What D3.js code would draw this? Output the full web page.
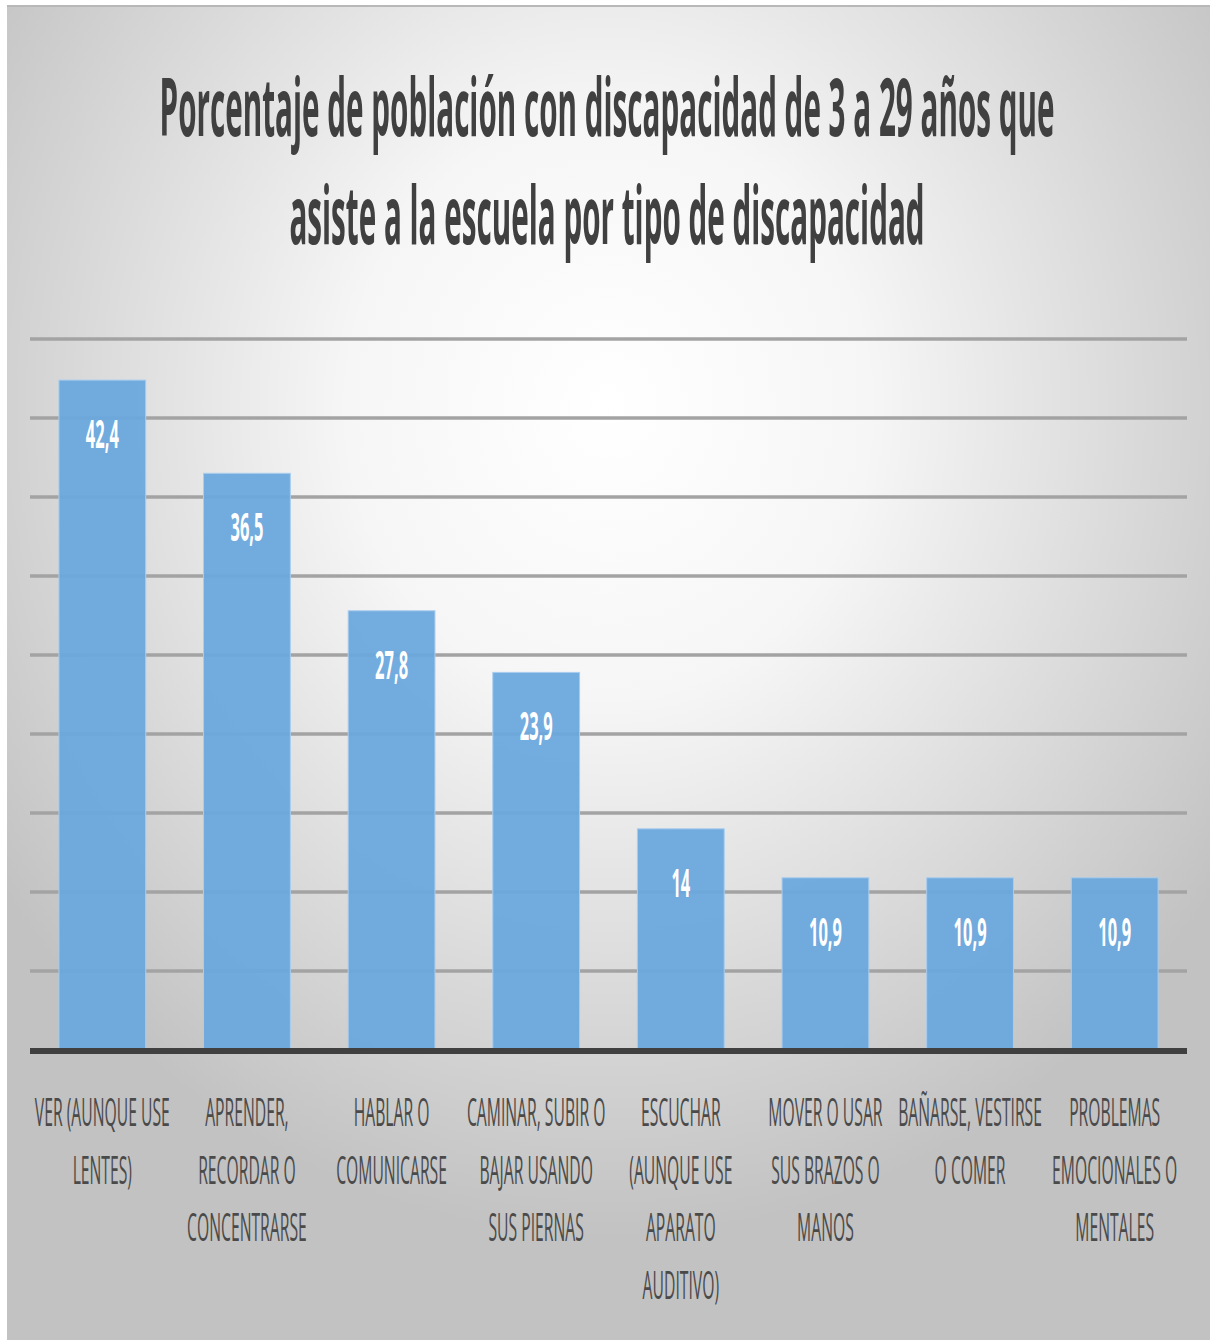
<!DOCTYPE html>
<html>
<head>
<meta charset="utf-8">
<script src="https://cdn.jsdelivr.net/npm/d3@7"></script>
<style>
  body { margin: 0; background: #fff; }
  svg { display: block; }
</style>
</head>
<body>
<div id="chart"></div>
<script>
// chart data
var CATEGORIES = ["Ver", "Aprender", "Hablar", "Caminar", "Escuchar", "Mover", "Bañarse", "Problemas"];
var VALUES = [42.4, 36.5, 27.8, 23.9, 14, 10.9, 10.9, 10.9];
var CAT_LINES = [
    ["VER (AUNQUE USE", "LENTES)"],
    ["APRENDER,", "RECORDAR O", "CONCENTRARSE"],
    ["HABLAR O", "COMUNICARSE"],
    ["CAMINAR, SUBIR O", "BAJAR USANDO", "SUS PIERNAS"],
    ["ESCUCHAR", "(AUNQUE USE", "APARATO", "AUDITIVO)"],
    ["MOVER O USAR", "SUS BRAZOS O", "MANOS"],
    ["BAÑARSE, VESTIRSE", "O COMER"],
    ["PROBLEMAS", "EMOCIONALES O", "MENTALES"]
];
var GRID_TICKS = [5, 10, 15, 20, 25, 30, 35, 40, 45];
var TITLE_LINES = ["Porcentaje de población con discapacidad de 3 a 29 años que",
                   "asiste a la escuela por tipo de discapacidad"];

var WIDTH = 1215, HEIGHT = 1340;
var FONT = "'Open Sans', 'DejaVu Sans', sans-serif";

function fmt(v) { return String(v).replace(".", ","); }

/*
*  condense   squeeze text horizontally so it reads like the narrow font
*             of the original; factor comes from a reference width
*/
function condenseFactor(svg, str, size, weight, target) {
    var t = svg.append("text")
        .attr("font-family", FONT)
        .attr("font-size", size)
        .attr("font-weight", weight)
        .text(str);
    var w = t.node().getComputedTextLength();
    t.remove();
    return target / w;
}

function placeText(g, x, y, s, str) {
    return g.append("text")
        .attr("transform", "translate(" + x + "," + y + ") scale(" + s + ",1)")
        .attr("text-anchor", "middle")
        .text(str);
}

function createChart(id) {

    var svg = d3.select(id).append("svg")
        .attr("width", WIDTH)
        .attr("height", HEIGHT);

    var defs = svg.append("defs");
    var grad = defs.append("radialGradient")
        .attr("id", "bg")
        .attr("cx", 0.5).attr("cy", 0.3).attr("r", 0.62);
    grad.append("stop").attr("offset", 0).attr("stop-color", "#ffffff");
    grad.append("stop").attr("offset", 0.35).attr("stop-color", "#f6f6f6");
    grad.append("stop").attr("offset", 1).attr("stop-color", "#c2c2c2");

    // panel
    svg.append("rect")
        .attr("x", 7).attr("y", 5)
        .attr("width", 1203).attr("height", 1340)
        .attr("fill", "url(#bg)");
    svg.append("line")
        .attr("x1", 7).attr("x2", 1210)
        .attr("y1", 6).attr("y2", 6)
        .attr("stroke", "#b8b8b8").attr("stroke-width", 2);

    var x = d3.scaleBand()
        .domain(CATEGORIES)
        .range([30, 1187])
        .paddingInner(0.4)
        .paddingOuter(0.2);

    var y = d3.scaleLinear()
        .domain([0, 45])
        .range([1050, 339]);

    // gridlines
    svg.append("g")
        .selectAll("line")
        .data(GRID_TICKS)
        .enter().append("line")
        .attr("x1", 30).attr("x2", 1187)
        .attr("y1", function(d) { return y(d); })
        .attr("y2", function(d) { return y(d); })
        .attr("stroke", "#a3a3a3")
        .attr("stroke-width", 3.5);

    // bars
    svg.append("g")
        .selectAll("rect")
        .data(VALUES)
        .enter().append("rect")
        .attr("x", function(d, i) { return x(CATEGORIES[i]); })
        .attr("y", function(d) { return y(d); })
        .attr("width", x.bandwidth())
        .attr("height", function(d) { return y(0) - y(d); })
        .attr("fill", "#6aa7dd")
        .attr("fill-opacity", 0.94)
        .attr("stroke", "#a9cdee")
        .attr("stroke-width", 1);

    // baseline
    svg.append("line")
        .attr("x1", 30).attr("x2", 1187)
        .attr("y1", y(0) + 1).attr("y2", y(0) + 1)
        .attr("stroke", "#404040")
        .attr("stroke-width", 6);

    // value labels
    var valSize = 39;
    var valS = condenseFactor(svg, "42,4", valSize, "bold", 33);
    var vg = svg.append("g")
        .attr("font-family", FONT)
        .attr("font-size", valSize)
        .attr("font-weight", "bold")
        .attr("fill", "#ffffff");
    VALUES.forEach(function(v, i) {
        placeText(vg, x(CATEGORIES[i]) + x.bandwidth() / 2, y(v) + 68, valS, fmt(v));
    });

    // category labels
    var catSize = 38;
    var catS = condenseFactor(svg, "VER (AUNQUE USE", catSize, "normal", 135);
    var cg = svg.append("g")
        .attr("font-family", FONT)
        .attr("font-size", catSize)
        .attr("fill", "#4a4a4a");
    CAT_LINES.forEach(function(lines, i) {
        lines.forEach(function(str, j) {
            placeText(cg, x(CATEGORIES[i]) + x.bandwidth() / 2, 1126 + j * 57.5, catS, str);
        });
    });

    // title
    var titleSize = 80;
    var titleS = condenseFactor(svg, TITLE_LINES[0], titleSize, "bold", 895);
    var tg = svg.append("g")
        .attr("font-family", FONT)
        .attr("font-size", titleSize)
        .attr("font-weight", "bold")
        .attr("fill", "#404040");
    placeText(tg, 607, 136, titleS, TITLE_LINES[0]);
    placeText(tg, 607, 244, titleS, TITLE_LINES[1]);
}

createChart("#chart");
</script>
</body>
</html>
